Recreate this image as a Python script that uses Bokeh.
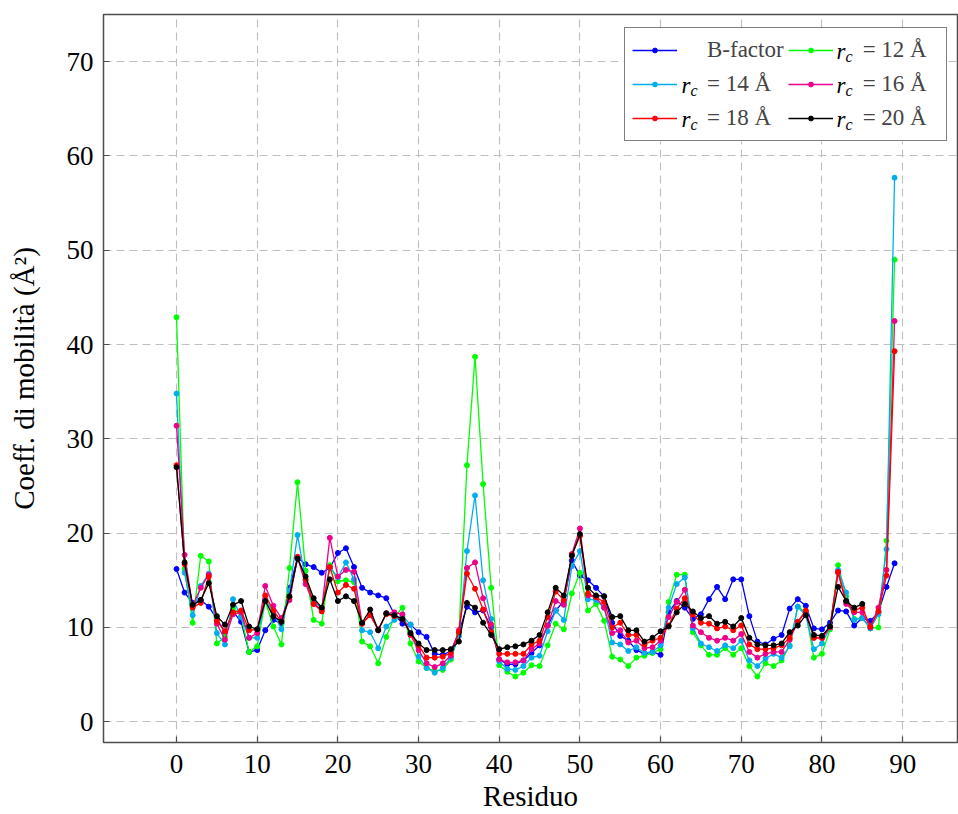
from bokeh.plotting import figure
from bokeh.models import (Range1d, Legend, LegendItem, Label, FixedTicker,
                          ColumnDataSource, BoxAnnotation)
from bokeh.embed import file_html
from bokeh.resources import INLINE

# ---------------- data ----------------
residues = list(range(90))

b_factor = [16.2, 13.7, 12.6, 12.9, 12.2, 10.9, 9.5, 11.7, 10.6, 7.4,
            7.6, 9.7, 10.8, 10.4, 14.2, 17.4, 16.7, 16.4, 15.8, 16.3,
            17.9, 18.4, 16.4, 14.2, 13.7, 13.4, 13.1, 11.4, 10.4, 10.3,
            9.5, 9.0, 7.2, 7.1, 7.5, 9.5, 12.2, 11.6, 11.8, 10.0,
            6.6, 6.1, 6.1, 6.5, 7.3, 8.1, 10.2, 11.8, 12.8, 17.1,
            15.5, 15.0, 14.2, 13.3, 10.5, 9.1, 8.6, 7.6, 7.2, 7.4,
            7.1, 11.6, 12.8, 12.1, 10.9, 11.4, 13.0, 14.3, 13.0, 15.1,
            15.1, 11.2, 8.5, 8.2, 8.8, 9.2, 12.0, 13.0, 12.3, 9.9,
            9.8, 10.5, 11.8, 11.7, 10.2, 11.0, 10.7, 11.6, 14.3, 16.8]

rc12 = [42.9, 16.2, 10.5, 17.6, 17.0, 8.3, 9.0, 12.1, 11.2, 7.4,
        8.0, 12.8, 10.1, 8.2, 16.3, 25.4, 16.0, 10.8, 10.4, 16.6,
        14.9, 15.0, 14.8, 8.5, 8.0, 6.2, 9.0, 11.1, 12.1, 8.3,
        6.4, 5.7, 5.4, 5.5, 6.6, 9.3, 27.2, 38.7, 25.2, 14.2,
        6.0, 5.3, 4.8, 5.2, 6.0, 5.9, 8.1, 10.4, 9.8, 13.6,
        15.8, 11.8, 12.5, 10.7, 6.9, 6.6, 5.9, 6.8, 7.0, 7.3,
        7.7, 12.7, 15.6, 15.6, 9.5, 8.1, 7.1, 7.1, 7.8, 7.1,
        7.8, 5.9, 4.8, 6.2, 5.9, 6.5, 8.1, 12.2, 11.6, 6.8,
        7.2, 9.8, 16.6, 13.3, 10.9, 11.0, 9.9, 10.0, 19.2, 49.0]

rc14 = [34.8, 15.8, 11.3, 14.4, 15.7, 9.4, 8.2, 13.0, 11.1, 8.9,
        8.9, 13.0, 11.6, 9.8, 13.9, 19.8, 15.0, 12.7, 12.1, 16.4,
        15.3, 16.9, 15.1, 9.7, 9.5, 7.8, 10.1, 10.8, 11.2, 10.3,
        6.9, 5.7, 5.2, 5.7, 6.8, 9.1, 18.1, 24.0, 15.0, 10.9,
        6.4, 5.6, 5.5, 5.9, 6.8, 7.0, 9.6, 11.8, 10.8, 16.5,
        18.1, 13.0, 12.9, 12.1, 8.4, 8.2, 7.5, 7.9, 7.3, 7.4,
        8.1, 12.1, 14.6, 15.3, 9.9, 8.3, 7.9, 7.5, 8.1, 7.8,
        8.6, 6.5, 5.9, 6.7, 7.2, 6.8, 8.0, 12.2, 11.3, 7.7,
        8.3, 10.0, 16.1, 13.7, 10.8, 11.0, 9.9, 11.4, 18.3, 57.7]

rc16 = [31.4, 17.7, 12.3, 14.2, 15.6, 10.4, 8.7, 11.4, 11.6, 8.9,
        9.4, 14.4, 12.3, 11.0, 12.9, 17.4, 14.6, 12.5, 11.9, 19.5,
        15.4, 16.1, 15.9, 10.4, 11.4, 9.7, 11.5, 11.6, 11.4, 9.2,
        7.6, 6.2, 5.8, 6.2, 7.0, 9.7, 16.3, 16.9, 13.1, 10.3,
        6.6, 6.3, 6.3, 6.5, 7.7, 8.3, 10.2, 12.8, 12.4, 17.8,
        20.5, 13.4, 13.2, 12.1, 9.4, 9.7, 8.4, 8.6, 7.8, 7.9,
        8.6, 11.1, 12.7, 14.0, 10.2, 9.5, 8.9, 8.6, 8.9, 8.6,
        9.3, 7.4, 6.8, 7.2, 7.4, 7.4, 8.7, 10.6, 11.6, 8.9,
        8.9, 10.0, 15.8, 12.5, 11.6, 11.6, 10.0, 12.1, 16.1, 42.5]

rc18 = [27.2, 16.7, 12.1, 12.6, 15.4, 10.7, 9.6, 11.6, 11.8, 9.7,
        9.8, 13.4, 11.8, 10.6, 13.2, 17.5, 15.1, 12.5, 11.7, 16.4,
        13.7, 14.5, 14.1, 10.4, 11.3, 9.8, 11.4, 11.2, 10.9, 9.3,
        8.1, 6.8, 6.8, 6.9, 7.3, 9.5, 15.7, 14.1, 11.9, 9.5,
        7.2, 7.2, 7.2, 7.2, 8.2, 8.6, 11.1, 13.8, 12.9, 17.7,
        19.7, 13.6, 13.2, 12.7, 10.0, 10.5, 9.2, 9.2, 8.2, 8.6,
        8.9, 10.2, 12.0, 13.1, 11.4, 10.5, 10.4, 9.9, 10.1, 9.7,
        10.2, 8.2, 7.7, 7.7, 7.8, 8.1, 8.9, 10.6, 11.8, 8.9,
        8.9, 10.1, 15.9, 12.8, 11.8, 12.1, 10.1, 11.7, 15.5, 39.3]

rc20 = [27.0, 16.9, 12.4, 12.9, 14.7, 11.2, 10.3, 12.4, 12.8, 10.1,
        9.8, 12.8, 11.2, 10.6, 13.3, 17.3, 15.4, 13.1, 12.1, 15.1,
        12.8, 13.3, 12.8, 10.5, 11.9, 9.7, 11.5, 11.3, 10.9, 9.4,
        8.3, 7.6, 7.6, 7.6, 7.7, 8.5, 12.6, 12.1, 10.5, 9.2,
        7.7, 7.9, 8.0, 8.2, 8.6, 9.2, 11.6, 14.2, 13.4, 17.6,
        19.9, 14.2, 13.4, 13.3, 11.1, 11.2, 9.7, 9.7, 8.5, 8.9,
        9.6, 10.1, 11.6, 12.5, 11.7, 11.0, 11.2, 10.4, 10.6, 10.1,
        11.0, 8.9, 8.2, 8.1, 8.1, 8.3, 9.5, 10.2, 11.3, 9.2,
        9.1, 10.1, 14.3, 12.8, 12.1, 12.5]

series_labels = ["B-factor", "= 12 Å", "= 14 Å", "= 16 Å", "= 18 Å", "= 20 Å"]
series_values = [b_factor, rc12, rc14, rc16, rc18, rc20]
series_colors = ["#0000ff", "#00ff00", "#00aeef", "#ec008c", "#ff0000", "#000000"]

x_ticks = [0, 10, 20, 30, 40, 50, 60, 70, 80, 90]
y_ticks = [0, 10, 20, 30, 40, 50, 60, 70]

FONT = "Liberation Serif"

# ---------------- figure ----------------
p = figure(width=958, height=814, output_backend="svg", toolbar_location=None,
           x_range=Range1d(-9.05, 96.8), y_range=Range1d(-2.2, 75.0),
           min_border_left=103, min_border_right=1, min_border_top=14,
           min_border_bottom=72)
p.background_fill_color = "white"
p.border_fill_color = "white"
p.outline_line_color = "#4d4d4d"
p.outline_line_width = 1.5

for ax in (p.xaxis[0], p.yaxis[0]):
    ax.axis_line_color = None
    ax.major_tick_in = 6
    ax.major_tick_out = 0
    ax.major_tick_line_color = "#4d4d4d"
    ax.major_tick_line_width = 1.2
    ax.minor_tick_line_color = None
    ax.major_label_text_font = FONT
    ax.major_label_text_font_size = "27px"
    ax.major_label_text_color = "black"
    ax.axis_label_text_font = FONT
    ax.axis_label_text_font_size = "29px"
    ax.axis_label_text_font_style = "normal"
    ax.axis_label_text_color = "black"

p.xaxis.ticker = FixedTicker(ticks=x_ticks)
p.yaxis.ticker = FixedTicker(ticks=y_ticks)
p.xaxis.axis_label = "Residuo"
p.yaxis.axis_label = "Coeff. di mobilità (Å²)"
p.xaxis.major_label_standoff = 12
p.xaxis.axis_label_standoff = 4
p.yaxis.major_label_standoff = 10
p.yaxis.axis_label_standoff = 24

for g in (p.xgrid[0], p.ygrid[0]):
    g.grid_line_color = "#bfbfbf"
    g.grid_line_dash = "8 5"
    g.grid_line_width = 1.1

# ---------------- legend geometry ----------------
LEG_X, LEG_Y = 521, 601
PAD, GW, GH, STAND, LW, SP, IH = 7, 45, 12, 30, 76, 4, 30
LEG_W = 2 * PAD + 2 * (GW + STAND + LW) + SP
LEG_H = 2 * PAD + 3 * IH + 2 * SP

# white background of the legend box (below the curves, above the grid)
p.add_layout(BoxAnnotation(left=LEG_X, right=LEG_X + LEG_W, bottom=LEG_Y, top=LEG_Y + LEG_H,
                           left_units="screen", right_units="screen",
                           bottom_units="screen", top_units="screen",
                           fill_color="white", fill_alpha=1.0, line_color=None,
                           level="underlay"))

items = []
for lab, vals, col in zip(series_labels, series_values, series_colors):
    src = ColumnDataSource(dict(x=residues[:len(vals)], y=vals))
    r_line = p.line("x", "y", source=src, line_color=col, line_width=1.3)
    r_pts = p.scatter("x", "y", source=src, size=5, fill_color=col, line_color=col)
    items.append(LegendItem(label=lab, renderers=[r_line, r_pts]))

legend = Legend(items=items, location=(LEG_X, LEG_Y), orientation="horizontal", ncols=2,
                glyph_width=GW, glyph_height=GH, label_height=IH, label_width=LW,
                label_standoff=STAND, spacing=SP, padding=PAD, margin=0,
                label_text_font=FONT, label_text_font_size="23px",
                label_text_baseline="alphabetic",
                border_line_color="black", border_line_width=1.2,
                background_fill_alpha=0.0)
p.add_layout(legend)

# r_c prefixes of the legend labels
leg_top = LEG_Y + LEG_H
for k in range(1, 6):
    row, col = k // 2, k % 2
    xr = LEG_X + PAD + col * (GW + STAND + LW + SP) + GW + 5
    yb = leg_top - PAD - IH / 2 - row * (IH + SP)
    p.add_layout(Label(x=xr, y=yb, x_units="screen", y_units="screen", text="r",
                       text_font=FONT, text_font_style="italic", text_font_size="23px",
                       text_baseline="alphabetic", text_color="black"))
    p.add_layout(Label(x=xr + 9, y=yb - 5, x_units="screen", y_units="screen", text="c",
                       text_font=FONT, text_font_style="italic", text_font_size="16px",
                       text_baseline="alphabetic", text_color="black"))

open("out.html", "w").write(file_html(p, INLINE))
